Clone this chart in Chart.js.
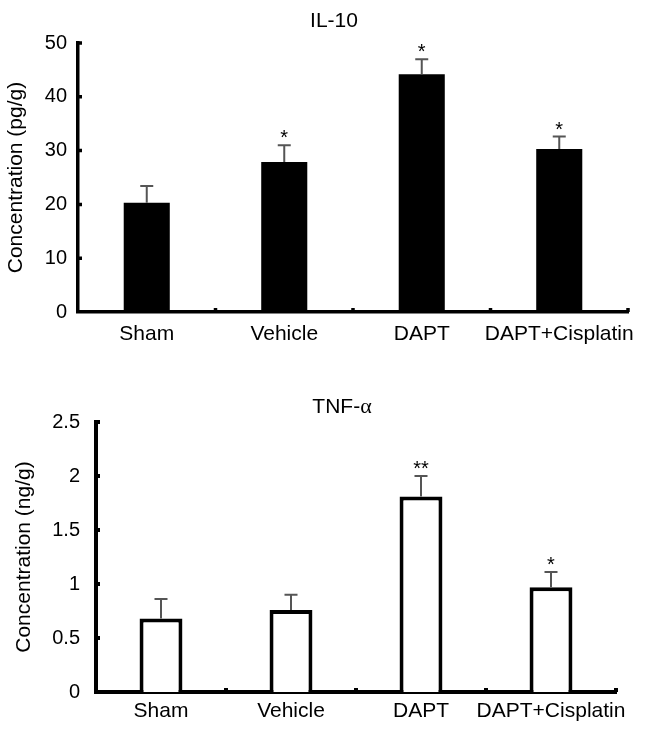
<!DOCTYPE html>
<html>
<head>
<meta charset="utf-8">
<script src="https://cdn.jsdelivr.net/npm/chart.js@4.4.1/dist/chart.umd.min.js"></script>
<style>
  html, body { margin: 0; padding: 0; background: #fff; }
  body { width: 646px; height: 734px; position: relative; overflow: hidden; font-family: "Liberation Sans", Arial, sans-serif; }
  .panel { position: absolute; left: 0; width: 646px; }
  .ttl { position: absolute; transform: translate(-50%, -50%); font-size: 21px; line-height: 1; white-space: nowrap; color: #000; }
  .alpha { font-family: "Liberation Serif", serif; font-size: 22px; }
</style>
</head>
<body>
<div class="panel" style="top:0;height:350px"><canvas id="il10Chart"></canvas></div>
<div class="panel" style="top:365px;height:369px"><canvas id="tnfChart"></canvas></div>
<div class="ttl" style="left:334px;top:19px">IL-10</div>
<div class="ttl" style="left:342px;top:406px">TNF-<span class="alpha">α</span></div>
<script>
const categories = ['Sham', 'Vehicle', 'DAPT', 'DAPT+Cisplatin'];

const il10Means = [20.3, 27.9, 44.2, 30.3];
const il10Errors = [3.1, 3.1, 2.8, 2.3];
const il10Marks = ['', '*', '*', '*'];
const il10Ticks = [0, 10, 20, 30, 40, 50];

const tnfMeans = [0.68, 0.76, 1.81, 0.97];
const tnfErrors = [0.18, 0.14, 0.19, 0.14];
const tnfMarks = ['', '', '**', '*'];
const tnfTicks = [0, 0.5, 1, 1.5, 2, 2.5];

const FONT = '"Liberation Sans", Arial, sans-serif';

// error bars and significance stars on top of each bar
const errorBarPlugin = {
    id: 'errorBars',
    afterDatasetsDraw(chart, args, opts) {
        const ctx = chart.ctx;
        const yScale = chart.scales.y;
        const meta = chart.getDatasetMeta(0);
        ctx.save();
        meta.data.forEach((bar, i) => {
            const base = yScale.getPixelForValue(opts.means[i]);
            const top = yScale.getPixelForValue(opts.means[i] + opts.errors[i]);
            ctx.strokeStyle = '#555';
            ctx.lineWidth = 2;
            ctx.beginPath();
            ctx.moveTo(bar.x, base);
            ctx.lineTo(bar.x, top);
            ctx.moveTo(bar.x - 6.5, top);
            ctx.lineTo(bar.x + 6.5, top);
            ctx.stroke();
            if (opts.marks[i]) {
                ctx.fillStyle = '#000';
                ctx.font = '20px ' + FONT;
                ctx.textAlign = 'center';
                ctx.textBaseline = 'alphabetic';
                ctx.fillText(opts.marks[i], bar.x, top - 1);
            }
        });
        ctx.restore();
    }
};

// small inward tick marks on both axes
const axisNubPlugin = {
    id: 'axisNubs',
    afterDraw(chart, args, opts) {
        const ctx = chart.ctx;
        const { x: xScale, y: yScale } = chart.scales;
        const area = chart.chartArea;
        ctx.save();
        ctx.strokeStyle = '#000';
        ctx.lineWidth = opts.width;
        ctx.beginPath();
        opts.ticks.forEach(v => {
            if (v === 0) return;
            const py = yScale.getPixelForValue(v);
            ctx.moveTo(area.left, py);
            ctx.lineTo(area.left + 4, py);
        });
        for (let i = 0; i < categories.length; i++) {
            const px = xScale.getPixelForValue(i + 0.5);
            ctx.moveTo(px, area.bottom);
            ctx.lineTo(px, area.bottom - 4);
        }
        ctx.stroke();
        ctx.restore();
    }
};

function makeChart(id, cfg) {
    return new Chart(document.getElementById(id).getContext('2d'), {
        type: 'bar',
        data: {
            labels: categories,
            datasets: [{
                data: cfg.means,
                backgroundColor: cfg.fill,
                borderColor: '#000',
                borderWidth: cfg.barBorder,
                categoryPercentage: 1,
                barPercentage: cfg.barPct
            }]
        },
        options: {
            responsive: true,
            maintainAspectRatio: false,
            animation: false,
            layout: { padding: cfg.padding },
            plugins: {
                legend: { display: false },
                tooltip: { enabled: false },
                errorBars: { means: cfg.means, errors: cfg.errors, marks: cfg.marks },
                axisNubs: { ticks: cfg.ticks, width: cfg.axisWidth }
            },
            scales: {
                x: {
                    grid: { display: false, drawTicks: false },
                    border: { display: true, color: '#000', width: cfg.axisWidth },
                    ticks: { color: '#000', font: { family: FONT, size: 21 }, padding: cfg.xPad, maxRotation: 0, autoSkip: false },
                    afterFit: s => { s.height = cfg.xHeight; }
                },
                y: {
                    min: 0,
                    max: cfg.ticks[cfg.ticks.length - 1],
                    afterBuildTicks: s => { s.ticks = cfg.ticks.map(v => ({ value: v })); },
                    grid: { display: false, drawTicks: false },
                    border: { display: true, color: '#000', width: cfg.axisWidth },
                    ticks: { color: '#000', font: { family: FONT, size: 20 }, padding: cfg.yPad, callback: v => String(+v.toFixed(2)) },
                    title: { display: true, text: cfg.yTitle, color: '#000', font: { family: FONT, size: 21 }, padding: { top: cfg.titlePad, bottom: 0 } },
                    afterFit: s => { s.width = cfg.yWidth; }
                }
            }
        },
        plugins: [errorBarPlugin, axisNubPlugin]
    });
}

makeChart('il10Chart', {
    means: il10Means, errors: il10Errors, marks: il10Marks, ticks: il10Ticks,
    fill: '#000', barBorder: 0, barPct: 0.335, axisWidth: 3.5,
    padding: { top: 43, right: 18, left: 0, bottom: 0 },
    xHeight: 38, xPad: 10, yWidth: 78, yPad: 11, titlePad: 4,
    yTitle: 'Concentration (pg/g)'
});

makeChart('tnfChart', {
    means: tnfMeans, errors: tnfErrors, marks: tnfMarks, ticks: tnfTicks,
    fill: '#fff', barBorder: 4, barPct: 0.33, axisWidth: 4,
    padding: { top: 57, right: 30, left: 0, bottom: 0 },
    xHeight: 42, xPad: 7, yWidth: 96, yPad: 16, titlePad: 12,
    yTitle: 'Concentration (ng/g)'
});
</script>
</body>
</html>
